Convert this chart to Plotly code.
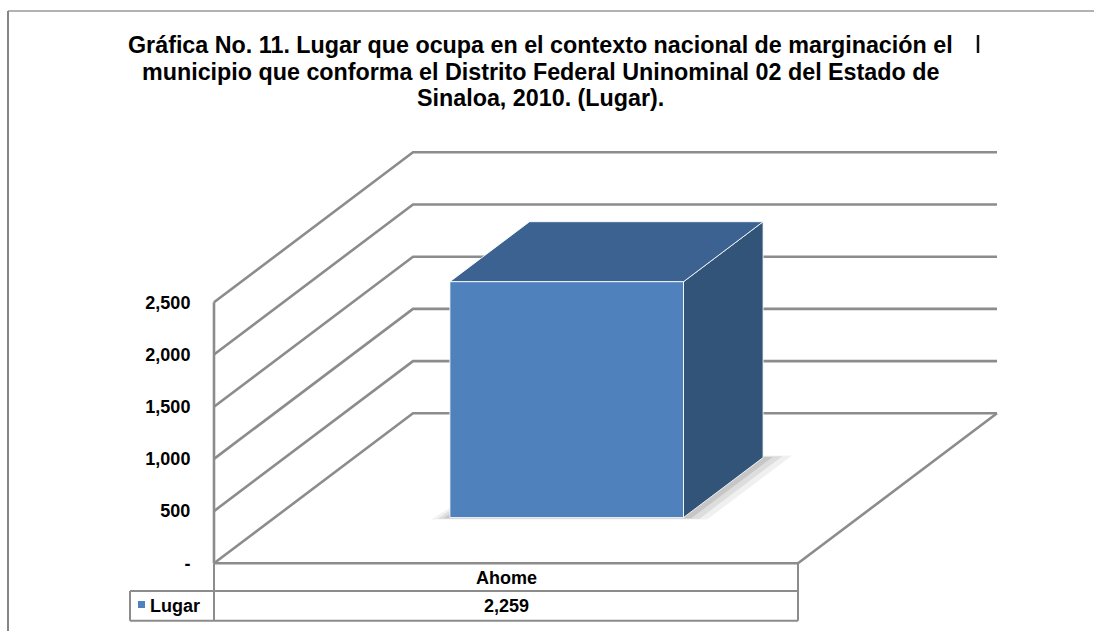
import plotly.graph_objects as go

# ---------------- data ----------------
categories = ["Ahome"]
series_name = "Lugar"
values = [2259]
y_tick_vals = [0, 500, 1000, 1500, 2000, 2500]
y_tick_text = ["-", "500", "1,000", "1,500", "2,000", "2,500"]
title_lines = [
    "Gráfica No. 11. Lugar que ocupa en el contexto nacional de marginación el",
    "municipio que conforma el Distrito Federal Uninominal 02 del Estado de",
    "Sinaloa, 2010. (Lugar).",
]

# ---------------- layout constants ----------------
W, H = 1094, 631
AX_X = 214.0            # px: front-left edge of the walls
CAT_PX = 584.0          # px: width of one category on the front plane
ZERO_Y = 563.3          # px: value 0 on the front plane
PX_PER_UNIT = 261.0 / 2500.0
DEP_DX, DEP_DY = 199.0, 150.0   # px: oblique depth offset of the back wall
D_FRONT, D_BACK = 0.305, 0.705  # bar depth span
HALF_W = 0.2                    # half bar width (category units)

n = len(categories)
x_min = -0.5 - AX_X / CAT_PX
x_max = x_min + W / CAT_PX
y_max = ZERO_Y / PX_PER_UNIT
y_min = y_max - H / PX_PER_UNIT
DX = DEP_DX / CAT_PX
DY = DEP_DY / PX_PER_UNIT
v_top = max(y_tick_vals)


def P(u, v, d):
    return u + d * DX, v + d * DY


def pxx(px):
    return px / W


def pxy(py):
    return 1 - py / H


GRID = "#8c8c8c"
FONT = "Liberation Sans, Arial, sans-serif"

fig = go.Figure()

# walls: gridlines on left wall + back wall
gx, gy = [], []
for v in y_tick_vals:
    for pt in (P(-0.5, v, 0), P(-0.5, v, 1), P(n - 0.5, v, 1)):
        gx.append(pt[0]); gy.append(pt[1])
    gx.append(None); gy.append(None)
# floor edges (front edge and right edge)
for pt in (P(-0.5, 0, 0), P(n - 0.5, 0, 0), P(n - 0.5, 0, 1)):
    gx.append(pt[0]); gy.append(pt[1])
gx.append(None); gy.append(None)
# front vertical axis line
for pt in (P(-0.5, v_top, 0), P(-0.5, 0, 0)):
    gx.append(pt[0]); gy.append(pt[1])
fig.add_trace(go.Scatter(x=gx, y=gy, mode="lines",
                         line=dict(color=GRID, width=2.6),
                         hoverinfo="skip", showlegend=False))


def poly(pts, fill, line_color="rgba(255,255,255,0.85)", lw=1.0):
    xs = [p[0] for p in pts] + [pts[0][0]]
    ys = [p[1] for p in pts] + [pts[0][1]]
    fig.add_trace(go.Scatter(x=xs, y=ys, mode="lines", fill="toself",
                             fillcolor=fill,
                             line=dict(color=line_color, width=lw),
                             hoverinfo="skip", showlegend=False))


for i, val in enumerate(values):
    u0, u1 = i - HALF_W, i + HALF_W
    # soft shadow on the floor
    for k, a in ((0.045, 0.06), (0.03, 0.08), (0.015, 0.10)):
        poly([P(u0 - k * 0.6, 0, D_FRONT - k * 0.3), P(u1 + k, 0, D_FRONT - k * 0.3),
              P(u1 + k, 0, D_BACK + k * 0.3), P(u0, 0, D_BACK + k * 0.3)],
             "rgba(0,0,0,%.2f)" % a, line_color="rgba(0,0,0,0)", lw=0)
    # side face
    poly([P(u1, 0, D_FRONT), P(u1, 0, D_BACK), P(u1, val, D_BACK), P(u1, val, D_FRONT)],
         "#325479")
    # top face
    poly([P(u0, val, D_FRONT), P(u1, val, D_FRONT), P(u1, val, D_BACK), P(u0, val, D_BACK)],
         "#3c6291")
    # front face
    poly([P(u0, 0, D_FRONT), P(u1, 0, D_FRONT), P(u1, val, D_FRONT), P(u0, val, D_FRONT)],
         "#4f81bd")

# ---------------- data table ----------------
ROW1_B, ROW2_B = 591.0, 620.8
KEY_L = 130.0
shapes = []
tl = dict(color=GRID, width=2)
for i in range(n + 1):
    shapes.append(dict(type="line", xref="x", yref="paper", x0=i - 0.5, x1=i - 0.5,
                       y0=pxy(ZERO_Y), y1=pxy(ROW2_B), line=tl))
shapes.append(dict(type="line", xref="paper", yref="paper", x0=pxx(KEY_L), x1=pxx(KEY_L),
                   y0=pxy(ROW1_B), y1=pxy(ROW2_B), line=tl))
for yy in (ROW1_B, ROW2_B):
    shapes.append(dict(type="line", xref="paper", yref="paper", x0=pxx(KEY_L),
                       x1=pxx(AX_X + n * CAT_PX), y0=pxy(yy), y1=pxy(yy), line=tl))
# legend key square
shapes.append(dict(type="rect", xref="paper", yref="paper", x0=pxx(138), x1=pxx(145),
                   y0=pxy(608), y1=pxy(601), fillcolor="#4f81bd", line=dict(width=0)))
# outer chart border (top and left)
shapes.append(dict(type="line", xref="paper", yref="paper", x0=pxx(8), x1=1,
                   y0=pxy(11), y1=pxy(11), line=dict(color="#999999", width=1.5)))
shapes.append(dict(type="line", xref="paper", yref="paper", x0=pxx(8), x1=pxx(8),
                   y0=pxy(11), y1=0, line=dict(color="#858585", width=2)))
# small dark mark near the top-right corner
shapes.append(dict(type="line", xref="paper", yref="paper", x0=pxx(978), x1=pxx(978),
                   y0=pxy(35), y1=pxy(53), line=dict(color="#111111", width=2.5)))

annotations = []
lab_font = dict(family=FONT, size=18, color="#000000", weight="bold")
for i, (c, val) in enumerate(zip(categories, values)):
    annotations.append(dict(x=i, xref="x", y=pxy(578), yref="paper", text=c,
                            showarrow=False, font=lab_font, xanchor="center", yanchor="middle"))
    annotations.append(dict(x=i, xref="x", y=pxy(606), yref="paper", text=f"{val:,}",
                            showarrow=False, font=lab_font, xanchor="center", yanchor="middle"))
annotations.append(dict(x=pxx(148), xref="paper", y=pxy(606), yref="paper", text=series_name,
                        showarrow=False, font=lab_font, xanchor="left", yanchor="middle"))

title_font = dict(family=FONT, size=23.3, color="#000000", weight="bold")
for j, line in enumerate(title_lines):
    annotations.append(dict(x=pxx(540), xref="paper", y=pxy(45 + 26.5 * j), yref="paper",
                            text=line, showarrow=False, font=title_font,
                            xanchor="center", yanchor="middle"))

fig.update_layout(
    width=W, height=H,
    margin=dict(l=0, r=0, t=0, b=0),
    paper_bgcolor="white", plot_bgcolor="white",
    showlegend=False,
    xaxis=dict(range=[x_min, x_max], visible=False, fixedrange=True),
    yaxis=dict(range=[y_min, y_max], anchor="free", position=AX_X / W,
               tickvals=y_tick_vals, ticktext=y_tick_text,
               ticks="outside", ticklen=20, tickcolor="rgba(0,0,0,0)",
               showgrid=False, zeroline=False, showline=False,
               tickfont=dict(family=FONT, size=18, color="#000000", weight="bold"),
               fixedrange=True),
    shapes=shapes,
    annotations=annotations,
)

fig.write_html("out.html", config={"displayModeBar": False},
               post_script="document.body.style.margin='0';document.body.style.overflow='hidden';")
